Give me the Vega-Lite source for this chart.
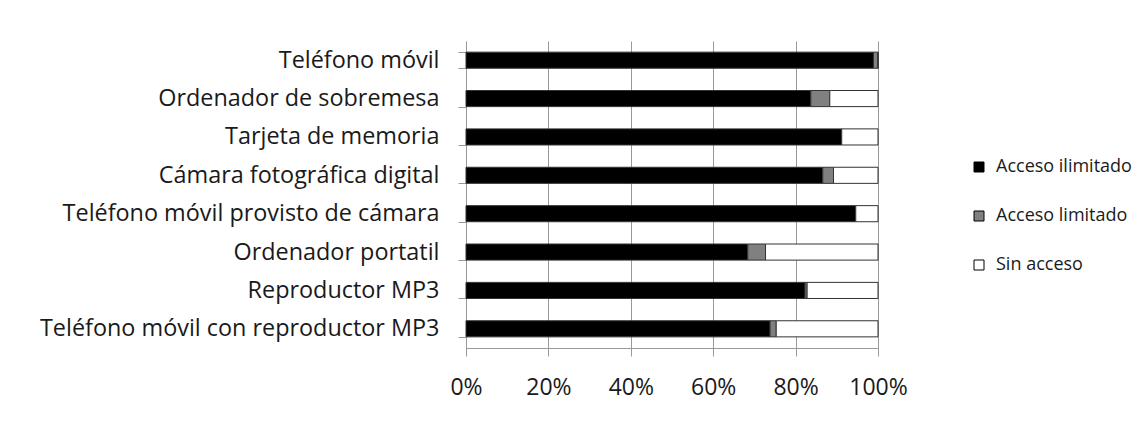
{
  "$schema": "https://vega.github.io/schema/vega-lite/v6.json",
  "autosize": "none",
  "padding": {"left": 466, "top": 41, "right": 263, "bottom": 77},
  "width": 412,
  "height": 307,
  "background": "white",
  "data": {
    "values": [
      {"item": "Teléfono móvil", "serie": "Acceso ilimitado", "valor": 98.9},
      {"item": "Teléfono móvil", "serie": "Acceso limitado", "valor": 1.1},
      {"item": "Teléfono móvil", "serie": "Sin acceso", "valor": 0},
      {"item": "Ordenador de sobremesa", "serie": "Acceso ilimitado", "valor": 83.7},
      {"item": "Ordenador de sobremesa", "serie": "Acceso limitado", "valor": 4.6},
      {"item": "Ordenador de sobremesa", "serie": "Sin acceso", "valor": 11.7},
      {"item": "Tarjeta de memoria", "serie": "Acceso ilimitado", "valor": 91.2},
      {"item": "Tarjeta de memoria", "serie": "Acceso limitado", "valor": 0},
      {"item": "Tarjeta de memoria", "serie": "Sin acceso", "valor": 8.8},
      {"item": "Cámara fotográfica digital", "serie": "Acceso ilimitado", "valor": 86.6},
      {"item": "Cámara fotográfica digital", "serie": "Acceso limitado", "valor": 2.6},
      {"item": "Cámara fotográfica digital", "serie": "Sin acceso", "valor": 10.8},
      {"item": "Teléfono móvil provisto de cámara", "serie": "Acceso ilimitado", "valor": 94.6},
      {"item": "Teléfono móvil provisto de cámara", "serie": "Acceso limitado", "valor": 0},
      {"item": "Teléfono móvil provisto de cámara", "serie": "Sin acceso", "valor": 5.4},
      {"item": "Ordenador portatil", "serie": "Acceso ilimitado", "valor": 68.4},
      {"item": "Ordenador portatil", "serie": "Acceso limitado", "valor": 4.3},
      {"item": "Ordenador portatil", "serie": "Sin acceso", "valor": 27.3},
      {"item": "Reproductor MP3", "serie": "Acceso ilimitado", "valor": 82.3},
      {"item": "Reproductor MP3", "serie": "Acceso limitado", "valor": 0.5},
      {"item": "Reproductor MP3", "serie": "Sin acceso", "valor": 17.2},
      {"item": "Teléfono móvil con reproductor MP3", "serie": "Acceso ilimitado", "valor": 73.8},
      {"item": "Teléfono móvil con reproductor MP3", "serie": "Acceso limitado", "valor": 1.5},
      {"item": "Teléfono móvil con reproductor MP3", "serie": "Sin acceso", "valor": 24.7}
    ]
  },
  "mark": {"type": "bar", "stroke": "#333333", "strokeWidth": 1},
  "encoding": {
    "y": {
      "field": "item",
      "type": "nominal",
      "sort": null,
      "scale": {"paddingInner": 0.58, "paddingOuter": 0.29},
      "axis": {
        "title": null,
        "tickBand": "extent",
        "tickSize": 8,
        "tickColor": "#999999",
        "domainColor": "#999999",
        "labelFont": "Open Sans",
        "labelFontSize": 23.4,
        "labelColor": "#1a1a1a",
        "labelPadding": 19,
        "labelLimit": 0,
        "grid": false
      }
    },
    "x": {
      "field": "valor",
      "type": "quantitative",
      "stack": "normalize",
      "scale": {"domain": [0, 1], "nice": false},
      "axis": {
        "title": null,
        "format": ".0%",
        "values": [0, 0.2, 0.4, 0.6, 0.8, 1],
        "tickSize": 8,
        "tickColor": "#999999",
        "domainColor": "#999999",
        "gridColor": "#999999",
        "grid": true,
        "labelFont": "Open Sans",
        "labelFontSize": 23,
        "labelColor": "#1a1a1a",
        "labelPadding": 20,
        "labelFlush": false
      }
    },
    "color": {
      "field": "serie",
      "type": "nominal",
      "scale": {
        "domain": ["Acceso ilimitado", "Acceso limitado", "Sin acceso"],
        "range": ["#000000", "#808080", "#ffffff"]
      },
      "legend": {
        "title": null,
        "orient": "none",
        "legendX": 504,
        "legendY": 117,
        "symbolType": "square",
        "symbolSize": 100,
        "symbolStrokeColor": "#000000",
        "symbolStrokeWidth": 1,
        "labelFont": "Open Sans",
        "labelFontSize": 18,
        "labelColor": "#1a1a1a",
        "rowPadding": 31,
        "labelOffset": 8,
        "labelLimit": 0
      }
    }
  },
  "config": {"view": {"stroke": null}}
}
